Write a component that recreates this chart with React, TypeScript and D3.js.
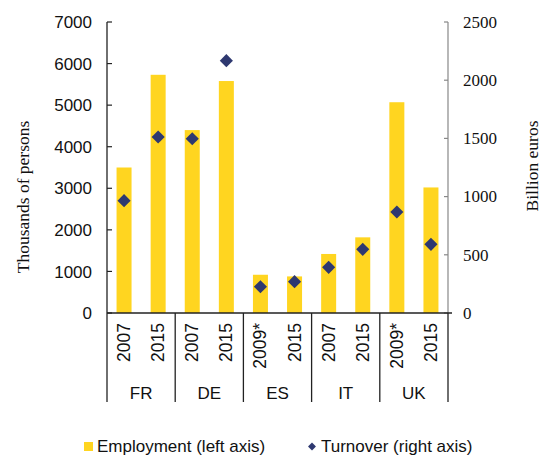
import React from "react";
import * as d3 from "d3";

const countries = ["FR", "DE", "ES", "IT", "UK"];
const years = ["2007", "2015", "2007", "2015", "2009*", "2015", "2007", "2015", "2009*", "2015"];
const employment = [3500, 5730, 4400, 5580, 920, 880, 1420, 1820, 5070, 3020];
const turnover = [965, 1512, 1497, 2168, 226, 269, 392, 547, 868, 590];
const leftTicks = [0, 1000, 2000, 3000, 4000, 5000, 6000, 7000];
const rightTicks = [0, 500, 1000, 1500, 2000, 2500];

const W = 542, H = 456;
const x0 = 107, x1 = 448, yTop = 22, yBase = 313;
const YELLOW = "#FFD520";
const NAVY = "#2E3870";
const SANS = "Liberation Sans, Arial";
const SERIF = "Liberation Serif, Times New Roman";

export default function App() {
  const slots = years.map((_, i) => String(i));
  const xs = d3.scaleBand().domain(slots).range([x0, x1]);
  const yL = d3.scaleLinear().domain([0, 7000]).range([yBase, yTop]);
  const yR = d3.scaleLinear().domain([0, 2500]).range([yBase, yTop]);
  const groupW = (x1 - x0) / countries.length;
  const diamond = d3.symbol().type(d3.symbolDiamond2).size(110)();
  const diamondSmall = d3.symbol().type(d3.symbolDiamond2).size(40)();
  const bw = 15;
  const cxOf = (i: number) => (xs(String(i)) as number) + xs.bandwidth() / 2;

  return (
    <svg width={W} height={H} style={{ position: "absolute", left: 0, top: 0, background: "#fff" }}>
      {/* bars */}
      {employment.map((v, i) => (
        <rect key={"b" + i} x={cxOf(i) - bw / 2} y={yL(v)} width={bw} height={yBase - yL(v)} fill={YELLOW} />
      ))}
      {/* left axis */}
      <line x1={x0} x2={x0} y1={yTop} y2={yBase} stroke="#222" strokeWidth={1.3} />
      {leftTicks.map((t) => (
        <g key={"l" + t}>
          <line x1={x0} x2={x0 + 5} y1={yL(t)} y2={yL(t)} stroke="#222" strokeWidth={1.2} />
          <text x={92} y={yL(t)} dy="0.36em" textAnchor="end" fontFamily={SANS} fontSize={17} fill="#111">{t}</text>
        </g>
      ))}
      {/* right axis */}
      <line x1={x1} x2={x1} y1={yTop} y2={yBase} stroke="#888" strokeWidth={1.2} />
      {rightTicks.map((t) => (
        <g key={"r" + t}>
          <line x1={x1 - 4} x2={x1} y1={yR(t)} y2={yR(t)} stroke="#888" strokeWidth={1.2} />
          <text x={463} y={yR(t)} dy="0.34em" textAnchor="start" fontFamily={SERIF} fontSize={17} fill="#111">{t}</text>
        </g>
      ))}
      {/* diamonds */}
      {turnover.map((v, i) => (
        <path key={"d" + i} d={diamond as string} transform={`translate(${cxOf(i)},${yR(v)})`} fill={NAVY} />
      ))}
      {/* baseline */}
      <line x1={x0} x2={x1 + 4} y1={yBase} y2={yBase} stroke="#222" strokeWidth={1.3} />
      {/* group separators */}
      {d3.range(countries.length + 1).map((k) => (
        <line key={"s" + k} x1={x0 + k * groupW} x2={x0 + k * groupW} y1={yBase} y2={402} stroke="#222" strokeWidth={1.3} />
      ))}
      {/* year labels */}
      {years.map((yr, i) => (
        <text key={"y" + i} transform={`translate(${cxOf(i) + 6},${323}) rotate(-90)`} textAnchor="end" fontFamily={SANS} fontSize={17.5} fill="#111">{yr}</text>
      ))}
      {/* country labels */}
      {countries.map((c, k) => (
        <text key={"c" + c} x={x0 + (k + 0.5) * groupW} y={398.5} textAnchor="middle" fontFamily={SANS} fontSize={17} fill="#111">{c}</text>
      ))}
      {/* axis titles */}
      <text transform={`translate(29,197) rotate(-90)`} textAnchor="middle" fontFamily={SERIF} fontSize={17.5} fill="#111">Thousands of persons</text>
      <text transform={`translate(537.5,166) rotate(-90)`} textAnchor="middle" fontFamily={SERIF} fontSize={17.5} fill="#111">Billion euros</text>
      {/* legend */}
      <rect x={84} y={442} width={9} height={9} fill={YELLOW} />
      <text x={97} y={452} fontFamily={SANS} fontSize={17} fill="#111">Employment (left axis)</text>
      <path d={diamondSmall as string} transform="translate(312,446.5)" fill={NAVY} />
      <text x={321} y={452} fontFamily={SANS} fontSize={17} fill="#111">Turnover (right axis)</text>
    </svg>
  );
}
